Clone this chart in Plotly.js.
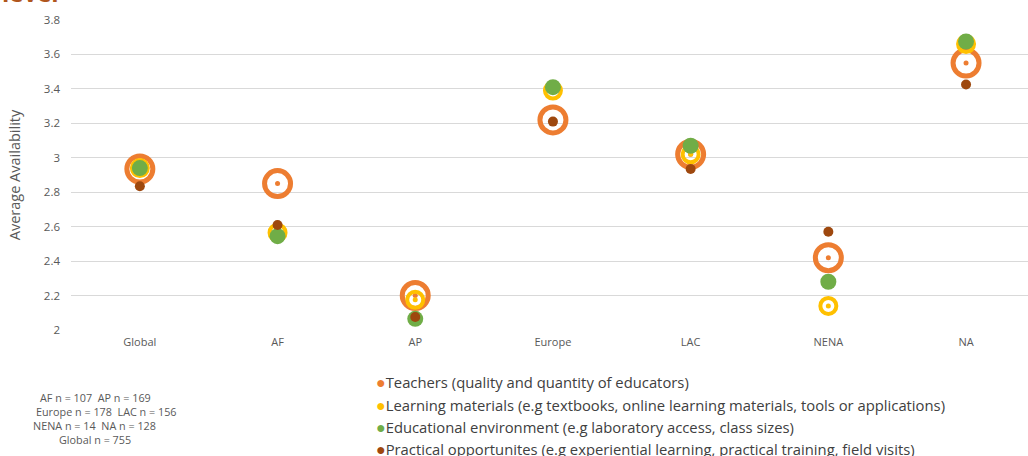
<!DOCTYPE html>
<html>
<head>
<meta charset="utf-8">
<script src="https://cdn.plot.ly/plotly-3.0.1.min.js"></script>
<style>html,body{margin:0;padding:0;background:#fff;}#chart{width:1028px;height:456px;}</style>
</head>
<body>
<div id="chart"></div>
<script>
const regions = ["Global", "AF", "AP", "Europe", "LAC", "NENA", "NA"];
const teachers = [2.935, 2.85, 2.20, 3.22, 3.02, 2.42, 3.55];
const learningMaterials = [2.94, 2.565, 2.175, 3.39, 3.02, 2.14, 3.66];
const educationalEnv = [2.94, 2.545, 2.065, 3.41, 3.07, 2.28, 3.675];
const practical = [2.835, 2.61, 2.075, 3.21, 2.935, 2.57, 3.425];
const seriesNames = [
  "Teachers (quality and quantity of educators)",
  "Learning materials (e.g textbooks, online learning materials, tools or applications)",
  "Educational environment (e.g laboratory access, class sizes)",
  "Practical opportunites (e.g experiential learning, practical training, field visits)"
];
const colors = ["#ED7D31", "#FFC000", "#70AD47", "#9E480E"];
const sampleNotes = ["AF n = 107&nbsp; AP n = 169", "Europe n = 178&nbsp; LAC n = 156", "NENA n = 14&nbsp; NA n = 128", "Global n = 755"];
const yTicks = [2, 2.2, 2.4, 2.6, 2.8, 3, 3.2, 3.4, 3.6, 3.8];

const traces = [
  {x: regions, y: teachers, name: seriesNames[0], type: "scatter", mode: "markers",
   marker: {symbol: "circle-open", size: 26, color: colors[0], line: {width: 5, color: colors[0]}}},
  {x: regions, y: teachers, name: seriesNames[0], type: "scatter", mode: "markers",
   marker: {symbol: "circle", size: 5, color: colors[0], line: {width: 0}}},
  {x: regions, y: learningMaterials, name: seriesNames[1], type: "scatter", mode: "markers",
   marker: {symbol: "circle-open", size: 16, color: colors[1], line: {width: 4, color: colors[1]}}},
  {x: regions, y: learningMaterials, name: seriesNames[1], type: "scatter", mode: "markers",
   marker: {symbol: "circle", size: 5, color: colors[1], line: {width: 0}}},
  {x: regions, y: educationalEnv, name: seriesNames[2], type: "scatter", mode: "markers",
   marker: {symbol: "circle", size: 16, color: colors[2], line: {width: 0}}},
  {x: regions, y: practical, name: seriesNames[3], type: "scatter", mode: "markers",
   marker: {symbol: "circle", size: 10, color: colors[3], line: {width: 0}}}
];

const annotations = [];
annotations.push({xref: "paper", yref: "paper", x: -0.0742, y: 1.030, xanchor: "left", yanchor: "bottom",
  text: "<b>level</b>", showarrow: false, font: {family: "Open Sans, sans-serif", size: 24, color: "#B0561D"}});
const legendY = [382, 405, 427, 449];
seriesNames.forEach((n, i) => {
  annotations.push({xref: "paper", yref: "paper", x: (374 - 71) / 957, y: (330 - legendY[i]) / 310,
    xanchor: "left", yanchor: "middle", showarrow: false, align: "left",
    text: '<span style="color:' + colors[i] + ';font-size:16px">●</span>' + n,
    font: {family: "Open Sans, sans-serif", size: 14.8, color: "#404040"}});
});
const noteX = [38, 34, 31, 57];
const noteY = [398, 411, 425, 439];
sampleNotes.forEach((t, i) => {
  annotations.push({xref: "paper", yref: "paper", x: (noteX[i] - 71) / 957, y: (330 - noteY[i]) / 310,
    xanchor: "left", yanchor: "middle", showarrow: false, text: t,
    font: {family: "Open Sans, sans-serif", size: 10.8, color: "#595959"}});
});

const layout = {
  width: 1028, height: 456,
  margin: {l: 71, r: 0, t: 20, b: 126},
  paper_bgcolor: "#ffffff", plot_bgcolor: "#ffffff",
  showlegend: false,
  xaxis: {type: "category", range: [-0.5, 6.45], showgrid: false, zeroline: false, showline: false,
    ticks: "", tickfont: {family: "Open Sans, sans-serif", size: 11, color: "#595959"}, ticklabelstandoff: 4},
  yaxis: {range: [2, 3.8], tickvals: yTicks, ticktext: yTicks.map(v => String(v)),
    showgrid: true, gridcolor: "#D9D9D9", gridwidth: 1, zeroline: false, showline: false, ticks: "",
    tickfont: {family: "Open Sans, sans-serif", size: 11.5, color: "#595959"}, ticklabelstandoff: 10,
    title: {text: "Average Availability", font: {family: "Open Sans, sans-serif", size: 14.5, color: "#595959"}, standoff: 19}},
  annotations: annotations,
  font: {family: "Open Sans, sans-serif"}
};
Plotly.newPlot("chart", traces, layout, {displayModeBar: false, staticPlot: true});
</script>
</body>
</html>
